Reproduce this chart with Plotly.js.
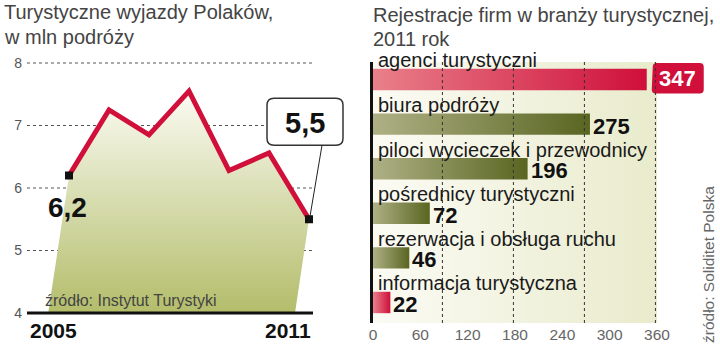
<!DOCTYPE html>
<html><head><meta charset="utf-8">
<script src="https://cdn.plot.ly/plotly-3.0.1.min.js"></script>
<style>html,body{margin:0;padding:0;background:#fff}#chart{width:720px;height:344px}</style>
</head><body><div id="chart"></div>
<script>
// ---- data: left chart ----
const years = [2005, 2006, 2007, 2008, 2009, 2010, 2011];
const trips = [6.2, 7.25, 6.85, 7.55, 6.28, 6.56, 5.5];
const tripLabels = ['6,2', '5,5'];
const yTicks = [4, 5, 6, 7, 8];
const yearLabels = ['2005', '2011'];

// ---- data: right chart ----
const categories = ['agenci turystyczni', 'biura podróży', 'piloci wycieczek i przewodnicy',
  'pośrednicy turystyczni', 'rezerwacja i obsługa ruchu', 'informacja turystyczna'];
const registrations = [347, 275, 196, 72, 46, 22];
const barKinds = ['red', 'olive', 'olive', 'olive', 'olive', 'red'];
const xTicks2 = [0, 60, 120, 180, 240, 300, 360];

const SANS = 'Liberation Sans, Arial, sans-serif';
const RED = '#d0103a';

const scales = {
  red: [[0, '#e9808a'], [1, '#cf0f3a']],
  olive: [[0, '#afb185'], [1, '#596521']]
};

// left panel frame (visible axis span)
const xMin = 2003.95, xMax = 2011.1;

const traces = [];

// area under the line (decorative trapezoid)
traces.push({
  x: [years[0] - 0.52].concat(years, [years[years.length - 1] - 0.35]),
  y: [yTicks[0]].concat(trips, [yTicks[0]]),
  mode: 'lines', fill: 'toself', line: {width: 0},
  fillgradient: {type: 'vertical', colorscale: [[0, '#b3bd6a'], [1, '#fbfbf3']]},
  hoverinfo: 'skip', xaxis: 'x', yaxis: 'y'
});
traces.push({
  x: years, y: trips, mode: 'lines',
  line: {color: RED, width: 5}, xaxis: 'x', yaxis: 'y'
});
traces.push({
  x: [years[0], years[years.length - 1]], y: [trips[0], trips[trips.length - 1]],
  mode: 'markers', marker: {symbol: 'square', size: 8, color: '#111'},
  xaxis: 'x', yaxis: 'y'
});

// background of bar panel
const yTop = -0.392, yBot = 5.46;
const x2Max = xTicks2[xTicks2.length - 1];
traces.push({
  x: [0, x2Max, x2Max, 0, 0],
  y: [yTop, yTop, yBot, yBot, yTop],
  mode: 'lines', fill: 'toself', line: {width: 0},
  fillgradient: {type: 'horizontal', colorscale: [[0, '#fbfbf4'], [1, '#e9ebcc']]},
  hoverinfo: 'skip', xaxis: 'x2', yaxis: 'y2'
});

// bars as gradient-filled polygons
const h = 0.24;
registrations.forEach((v, i) => {
  traces.push({
    x: [0, v, v, 0, 0], y: [i - h, i - h, i + h, i + h, i - h],
    mode: 'lines', fill: 'toself', line: {width: 0},
    fillgradient: {type: 'horizontal', colorscale: scales[barKinds[i]]},
    hoverinfo: 'skip', xaxis: 'x2', yaxis: 'y2'
  });
});

const annotations = [];
const shapes = [];

// titles
annotations.push({xref: 'paper', yref: 'paper', x: 2 / 720, y: 1 - 12.5 / 344, xanchor: 'left', yanchor: 'middle',
  text: 'Turystyczne wyjazdy Polaków,', showarrow: false, font: {family: SANS, size: 20, color: '#444'}});
annotations.push({xref: 'paper', yref: 'paper', x: 2 / 720, y: 1 - 37 / 344, xanchor: 'left', yanchor: 'middle',
  text: 'w mln podróży', showarrow: false, font: {family: SANS, size: 20, color: '#444'}});
annotations.push({xref: 'paper', yref: 'paper', x: 371 / 720, y: 1 - 15 / 344, xanchor: 'left', yanchor: 'middle',
  text: 'Rejestracje firm w branży turystycznej,', showarrow: false, font: {family: SANS, size: 20, color: '#444'}});
annotations.push({xref: 'paper', yref: 'paper', x: 371 / 720, y: 1 - 39 / 344, xanchor: 'left', yanchor: 'middle',
  text: '2011 rok', showarrow: false, font: {family: SANS, size: 20, color: '#444'}});

// left chart labels
annotations.push({xref: 'paper', yref: 'paper', x: 28 / 720, y: 1 - 330.5 / 344, xanchor: 'left', yanchor: 'middle',
  text: yearLabels[0], showarrow: false, font: {family: SANS, size: 21, color: '#111', weight: 700}});
annotations.push({xref: 'paper', yref: 'paper', x: 313 / 720, y: 1 - 330.5 / 344, xanchor: 'right', yanchor: 'middle',
  text: yearLabels[1], showarrow: false, font: {family: SANS, size: 21, color: '#111', weight: 700}});
annotations.push({xref: 'paper', yref: 'paper', x: 43 / 720, y: 1 - 300 / 344, xanchor: 'left', yanchor: 'middle',
  text: 'źródło: Instytut Turystyki', showarrow: false, font: {family: SANS, size: 16, color: '#444'}});
annotations.push({xref: 'x', yref: 'y', x: years[0], y: trips[0], xshift: -2, yshift: -32,
  text: tripLabels[0], showarrow: false, font: {family: SANS, size: 28, color: '#111', weight: 700}});
const lastYear = years[years.length - 1], lastVal = trips[trips.length - 1];
annotations.push({xref: 'x', yref: 'y', x: lastYear, y: lastVal, xshift: -4, yshift: 96,
  text: tripLabels[1], showarrow: false, font: {family: SANS, size: 29, color: '#111', weight: 700}});

shapes.push({type: 'path', xref: 'x', yref: 'y', xsizemode: 'pixel', ysizemode: 'pixel',
  xanchor: lastYear, yanchor: lastVal,
  path: 'M -42,114 Q -42,121 -35,121 L 27,121 Q 34,121 34,114 L 34,81 Q 34,74 27,74 L -35,74 Q -42,74 -42,81 Z',
  fillcolor: '#fff', line: {color: '#333', width: 1.5}, layer: 'above'});
shapes.push({type: 'path', xref: 'x', yref: 'y', xsizemode: 'pixel', ysizemode: 'pixel',
  xanchor: lastYear, yanchor: lastVal, path: 'M 13,74 L 1,3',
  line: {color: '#222', width: 1}, layer: 'above'});

// left panel dashed grid + baseline
yTicks.slice(1).forEach(v => {
  shapes.push({type: 'line', xref: 'x', yref: 'y', x0: xMin, x1: xMax + 0.05, y0: v, y1: v,
    line: {color: '#555', width: 1, dash: '3px,3px'}, layer: 'below'});
});
shapes.push({type: 'line', xref: 'x', yref: 'y', x0: xMin, x1: xMax, y0: yTicks[0], y1: yTicks[0],
  line: {color: '#111', width: 3}, layer: 'above'});

// right chart: category & value labels
categories.forEach((c, i) => {
  annotations.push({xref: 'x2', yref: 'y2', x: 0, y: i, xshift: 3, yshift: 19, xanchor: 'left', yanchor: 'middle',
    text: c, showarrow: false, font: {family: SANS, size: 20, color: '#1a1a1a'}});
});
registrations.forEach((v, i) => {
  if (i === 0) {
    annotations.push({xref: 'x2', yref: 'y2', x: v, y: i, xshift: 31, yshift: 1, xanchor: 'center', yanchor: 'middle',
      text: String(v), showarrow: false, font: {family: SANS, size: 22, color: '#fff', weight: 700}});
  } else {
    annotations.push({xref: 'x2', yref: 'y2', x: v, y: i, xshift: 1, yshift: -2, xanchor: 'left', yanchor: 'middle',
      text: String(v), showarrow: false, font: {family: SANS, size: 22, color: '#111', weight: 700}});
  }
});
shapes.push({type: 'path', xref: 'x2', yref: 'y2', xsizemode: 'pixel', ysizemode: 'pixel',
  xanchor: registrations[0], yanchor: 0,
  path: 'M 9,-14 L 53,-14 Q 57,-14 57,-10 L 57,12.5 Q 57,16.5 53,16.5 L 10,16.5 Q 6,16.5 6,12.5 L 5,-10 Q 5,-14 9,-14 Z',
  fillcolor: RED, line: {width: 0}, layer: 'above'});

// dashed grid in bar panel
[88, 178, 268, 358].forEach(gx => {
  shapes.push({type: 'line', xref: 'x2', yref: 'y2', x0: gx, x1: gx, y0: yTop, y1: yBot,
    line: {color: '#333', width: 1, dash: '3px,3px'}, layer: 'above'});
});

// right source
annotations.push({xref: 'paper', yref: 'paper', x: 708 / 720, y: 1 - 265 / 344, xanchor: 'center', yanchor: 'middle',
  textangle: -90, text: 'źródło: Soliditet Polska', showarrow: false, font: {family: SANS, size: 15.5, color: '#666'}});

// pixel geometry: left x 40 px/yr, 2005 at 69px; y 62.5 px/unit, 4 at 313px
const yLo = 3.9, yHi = 8.05;
const layout = {
  width: 720, height: 344,
  margin: {l: 0, r: 0, t: 0, b: 0},
  paper_bgcolor: '#fff', plot_bgcolor: 'rgba(0,0,0,0)',
  showlegend: false,
  xaxis: {domain: [27 / 720, 347 / 720], range: [xMin, xMin + 320 / 40], showgrid: false, showticklabels: false,
    showline: false, zeroline: false, ticks: '', anchor: 'y', fixedrange: true},
  yaxis: {domain: [(344 - 313 - (4 - yLo) * 62.5) / 344, (344 - 313 + (yHi - 4) * 62.5) / 344], range: [yLo, yHi],
    tickvals: yTicks, ticks: '', showgrid: false, zeroline: false, showline: false,
    tickfont: {family: SANS, size: 14, color: '#555'}, ticklabelstandoff: 4, anchor: 'x', fixedrange: true},
  xaxis2: {domain: [373 / 720, 714 / 720], range: [0, 341 / (284 / 360)], tickvals: xTicks2, ticks: '', showgrid: false,
    zeroline: false, showline: false, anchor: 'y2', tickfont: {family: SANS, size: 15.5, color: '#666'},
    ticklabelstandoff: 0, fixedrange: true},
  yaxis2: {domain: [21 / 344, 282 / 344], range: [yBot, yTop], showticklabels: false, ticks: '',
    showgrid: false, zeroline: false, showline: true, linecolor: '#111', linewidth: 3, anchor: 'x2', fixedrange: true},
  annotations: annotations,
  shapes: shapes
};

Plotly.newPlot('chart', traces, layout, {staticPlot: true, displayModeBar: false});
</script>
</body></html>
